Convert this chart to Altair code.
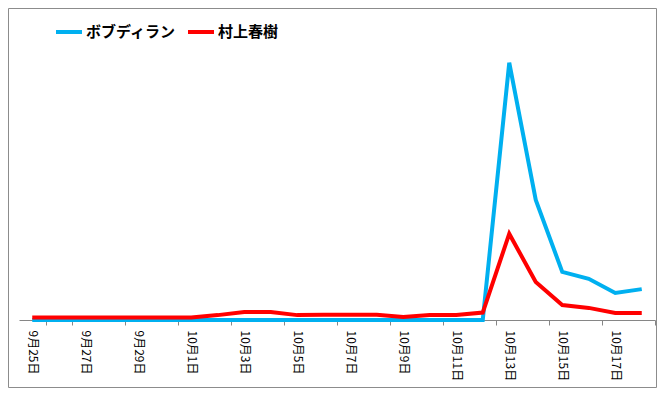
import altair as alt
import pandas as pd
import json

dates = ["9月25日", "9月26日", "9月27日", "9月28日", "9月29日", "9月30日",
         "10月1日", "10月2日", "10月3日", "10月4日", "10月5日", "10月6日",
         "10月7日", "10月8日", "10月9日", "10月10日", "10月11日", "10月12日",
         "10月13日", "10月14日", "10月15日", "10月16日", "10月17日", "10月18日"]
dylan = [0, 0, 0, 0, 0, 0, 0, 0, 0, 0, 0, 0,
         0, 0, 0, 0, 0, 0, 100, 46.7, 18.7, 16, 10.5, 12]
murakami = [1.0, 1.0, 1.0, 1.0, 1.0, 1.0, 1.0, 1.9, 3.1, 3.1, 1.9, 2.0,
            2.0, 2.0, 1.2, 1.9, 1.9, 2.9, 33.5, 14.8, 5.8, 4.7, 2.7, 2.7]
series = ["ボブディラン", "村上春樹"]
colors = ["#00B0F0", "#FF0000"]

# ticks on band boundaries every two days; labels on every other day
tick_values = dates[1::2]
label_values = dates[0::2]
label_expr = "%s[indexof(%s, datum.value)]" % (
    json.dumps(label_values, ensure_ascii=False),
    json.dumps(tick_values, ensure_ascii=False))

rows = []
for i, d in enumerate(dates):
    rows.append({"date": d, "series": series[0], "value": dylan[i], "order": 0})
for i, d in enumerate(dates):
    rows.append({"date": d, "series": series[1], "value": murakami[i], "order": 1})
df = pd.DataFrame(rows)

W, H = 636, 283
BAND = W / len(dates)
FONT = "Noto Sans CJK JP"

lines = alt.Chart(df).mark_line(strokeWidth=4).encode(
    x=alt.X("date:O", sort=dates,
            scale=alt.Scale(type="band", paddingInner=0, paddingOuter=0),
            axis=alt.Axis(title=None, values=tick_values, labelAngle=90,
                          tickBand="extent", tickSize=5, labelPadding=5,
                          labelExpr=label_expr, labelOffset=-BAND,
                          labelFont=FONT, labelFontSize=12, labelColor="#000000",
                          domainColor="#868686", tickColor="#868686",
                          labelOverlap=False, labelBound=False, labelFlush=False)),
    y=alt.Y("value:Q", scale=alt.Scale(domain=[0, 110], nice=False), axis=None),
    color=alt.Color("series:N", sort=series,
                    scale=alt.Scale(domain=series, range=colors),
                    legend=alt.Legend(title=None, orient="none", legendX=35, legendY=-20,
                                      direction="horizontal", symbolType="stroke",
                                      symbolStrokeWidth=4, symbolSize=676,
                                      labelFont=FONT, labelFontSize=15,
                                      labelFontWeight="bold", labelColor="#000000",
                                      columnPadding=3, labelOffset=2)),
    order=alt.Order("order:Q"),
    detail="series:N",
)

frame = alt.Chart(pd.DataFrame({"a": [0]})).mark_rect(
    filled=False, stroke="#8c8c8c", strokeWidth=1
).encode(
    x=alt.value(-10.5), x2=alt.value(637.5),
    y=alt.value(-28.5), y2=alt.value(350.5),
)

chart = alt.layer(frame, lines).properties(
    width=W, height=H,
    background="#ffffff",
    autosize=alt.AutoSizeParams(type="none"),
    padding={"left": 11, "top": 29, "right": 2, "bottom": 68},
).configure_view(stroke=None, strokeWidth=0)

chart.save("out.html", embed_options={"renderer": "svg", "actions": False})
